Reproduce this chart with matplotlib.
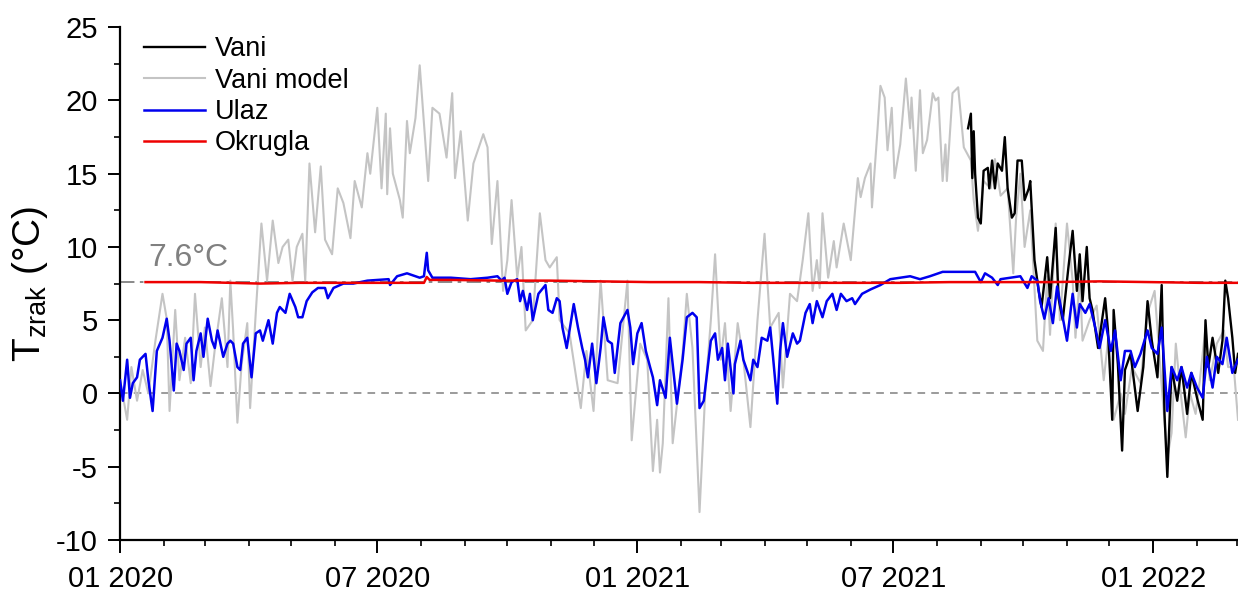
import matplotlib

matplotlib.use("Agg")
import matplotlib.dates as mdates
import matplotlib.pyplot as plt
import numpy as np

plt.rcParams["font.family"] = ["Liberation Sans", "DejaVu Sans"]
plt.rcParams["axes.unicode_minus"] = False

START = np.datetime64("2020-01-01")
END_DAY = 791

# Vani model (grey): days since 2020-01-01, temperature in °C
model_day = [0, 5, 8, 12, 16, 20, 25, 30, 33, 35, 39, 42, 46, 50, 53, 57, 60, 64, 67,
             72, 76, 78, 80, 83, 86, 90, 92, 96, 100, 104, 108, 112, 115, 119, 122,
             125, 129, 131, 134, 138, 142, 145, 150, 154, 158, 163, 166, 171, 175,
             177, 182, 185, 188, 189, 191, 193, 198, 200, 203, 205, 209, 212, 218,
             221, 226, 231, 235, 237, 241, 246, 250, 257, 260, 263, 267, 271, 274,
             277, 281, 284, 287, 292, 297, 301, 304, 309, 311, 318, 326, 330, 335,
             340, 345, 352, 359, 362, 368, 373, 377, 380, 382, 384, 388, 391, 398,
             401, 405, 410, 414, 418, 421, 425, 428, 432, 437, 441, 446, 451, 456,
             460, 466, 469, 474, 479, 483, 487, 490, 493, 495, 497, 501, 505, 507,
             512, 517, 522, 524, 527, 531, 532, 536, 538, 541, 543, 546, 548, 552,
             556, 559, 560, 563, 566, 568, 571, 575, 577, 579, 582, 584, 585, 589,
             593, 597, 602, 604, 607, 611, 616, 619, 623, 628, 632, 634, 637, 640,
             644, 649, 653, 656, 658, 662, 665, 670, 674, 676, 679, 681, 686, 691,
             696, 699, 703, 708, 711, 716, 722, 727, 732, 736, 741, 744, 747, 750,
             754, 757, 761, 764, 768, 771, 776, 781, 784, 788, 791]
model_val = [0.9, -1.8, 1.8, -0.5, 1.6, 0.0, 3.6, 6.8, 5.1, -1.2, 5.7, 0.9, 3.8, 0.7,
             6.8, 1.8, 4.5, 0.5, 3.0, 6.5, 1.8, 7.7, 4.3, -2.0, 2.0, 4.8, -1.0, 5.5,
             11.6, 7.7, 11.8, 8.9, 10.0, 10.5, 7.7, 10.0, 10.9, 7.7, 15.7, 11.0, 15.5,
             10.5, 9.5, 14.0, 13.0, 10.6, 14.5, 12.7, 16.4, 15.0, 19.5, 14.0, 19.1,
             13.6, 18.1, 15.0, 13.2, 12.0, 18.6, 16.4, 18.8, 22.4, 14.5, 19.5, 19.1,
             16.1, 20.5, 14.7, 17.9, 11.8, 15.7, 17.7, 16.8, 10.2, 14.5, 7.0, 9.1,
             13.2, 7.9, 10.0, 4.3, 5.0, 12.3, 9.1, 8.6, 9.3, 5.0, 4.1, -1.0, 2.9,
             -1.2, 7.7, 0.9, 0.7, 7.7, -3.2, 3.4, 2.3, -5.3, -1.8, -5.4, -3.4, 6.5,
             -3.4, 2.7, 6.8, 3.1, -8.1, 0.0, 5.0, 9.5, 2.3, 4.8, -1.2, 4.8, 2.3,
             -2.3, 5.0, 10.9, 4.5, 5.5, 0.4, 6.8, 6.3, 9.1, 12.3, 7.0, 9.1, 7.2,
             12.3, 7.9, 10.4, 8.6, 11.6, 9.1, 14.7, 13.4, 14.7, 15.7, 12.7, 18.1,
             21.0, 20.2, 16.6, 19.5, 14.7, 17.0, 21.5, 18.1, 20.2, 15.2, 20.7, 16.4,
             17.3, 20.5, 20.0, 20.2, 14.5, 17.0, 14.5, 20.5, 20.9, 16.8, 15.9, 13.2,
             11.1, 14.5, 14.0, 16.0, 13.5, 14.0, 8.2, 12.0, 15.0, 10.0, 12.5, 3.6,
             2.9, 8.0, 4.0, 11.6, 5.0, 11.6, 7.7, 3.8, 8.0, 3.6, 5.0, 6.0, 0.9, 3.6,
             -1.8, 0.0, -1.4, 1.8, 0.7, 5.5, 7.0, 1.8, -4.4, -2.7, 3.4, 0.4, -3.0,
             0.0, -1.4, 0.9, 4.5, 0.9, 3.4, 4.3, 1.8, 1.8, -1.8]

# Vani (black), measured
vani_day = [600, 602, 603, 604, 605, 607, 609, 611, 614, 615, 617, 619, 621, 624, 626,
            628, 631, 633, 635, 638, 640, 643, 644, 646, 647, 650, 652, 656, 658, 662,
            664, 667, 671, 674, 677, 679, 681, 684, 686, 688, 692, 697, 699, 702, 703,
            706, 709, 711, 715, 720, 724, 727, 730, 734, 737, 739, 741, 744, 748, 751,
            755, 758, 762, 766, 768, 770, 773, 777, 780, 782, 784, 787, 789, 791]
vani_val = [18.1, 19.1, 14.7, 17.9, 15.0, 12.0, 11.6, 15.2, 15.4, 14.0, 15.9, 14.0,
            15.7, 15.2, 17.5, 14.0, 12.0, 12.3, 15.9, 15.9, 13.2, 14.0, 14.5, 10.9,
            9.1, 7.0, 5.9, 9.3, 6.5, 11.3, 6.5, 5.0, 8.6, 11.1, 7.0, 9.5, 6.3, 10.0,
            6.5, 5.7, 3.1, 6.5, 4.3, -1.8, 5.7, 2.0, -3.9, 1.6, 2.7, -1.2, 1.8, 6.3,
            3.6, 1.1, 7.4, -1.4, -5.7, 1.8, -0.5, 1.8, -1.4, 1.4, -0.3, -1.8, 5.0,
            1.8, 3.8, 1.4, 3.6, 7.7, 6.5, 3.8, 1.4, 2.7]

# Ulaz (blue)
ulaz_day = [0, 2, 5, 7, 9, 12, 14, 18, 20, 23, 26, 30, 33, 35, 38, 40, 42, 45, 47, 50,
            52, 54, 57, 59, 62, 65, 67, 69, 73, 76, 78, 80, 83, 85, 87, 90, 93, 96, 99,
            101, 105, 108, 111, 113, 117, 120, 124, 126, 129, 132, 136, 140, 145, 147,
            151, 158, 165, 175, 190, 191, 196, 203, 212, 215, 217, 218, 221, 234, 248,
            260, 267, 270, 272, 274, 277, 281, 283, 285, 288, 290, 292, 296, 301, 303,
            306, 309, 311, 313, 316, 321, 324, 327, 329, 331, 334, 337, 340, 342, 345,
            348, 350, 354, 359, 361, 363, 366, 369, 372, 375, 377, 380, 382, 386, 389,
            394, 398, 401, 405, 408, 410, 413, 418, 421, 423, 426, 428, 430, 434, 435,
            439, 441, 446, 448, 451, 454, 458, 460, 462, 465, 467, 469, 472, 476, 479,
            481, 485, 488, 490, 493, 497, 500, 504, 507, 510, 514, 518, 520, 525, 531,
            538, 545, 552, 559, 566, 573, 582, 594, 605, 609, 612, 617, 621, 623, 630,
            637, 642, 645, 649, 651, 654, 657, 660, 663, 667, 670, 674, 677, 679, 683,
            686, 690, 693, 697, 701, 704, 708, 711, 715, 718, 722, 727, 730, 734, 737,
            741, 744, 748, 751, 755, 758, 762, 766, 769, 773, 776, 780, 783, 787, 791]
ulaz_val = [0.9, -0.5, 2.3, -0.3, 0.7, 1.1, 2.3, 2.7, 0.9, -1.2, 2.9, 3.8, 5.1, 3.6,
            0.2, 3.4, 2.9, 1.6, 3.4, 3.8, 0.9, 2.9, 4.1, 2.5, 5.1, 3.6, 3.1, 4.3, 2.5,
            3.4, 3.6, 3.4, 1.8, 1.6, 3.4, 3.8, 1.1, 4.1, 4.3, 3.6, 5.0, 3.4, 5.5, 5.9,
            5.5, 6.8, 5.9, 5.2, 5.2, 6.3, 6.9, 7.2, 7.2, 6.5, 7.2, 7.5, 7.5, 7.7, 7.8,
            7.4, 8.0, 8.2, 7.9, 8.0, 9.6, 8.4, 7.9, 7.9, 7.8, 7.9, 8.0, 7.7, 7.9, 6.8,
            7.6, 7.8, 6.3, 7.0, 5.7, 6.8, 5.0, 6.8, 7.4, 5.7, 5.5, 6.5, 6.3, 4.5, 3.1,
            6.1, 4.5, 3.1, 2.3, 1.1, 3.4, 0.7, 3.1, 5.2, 3.6, 3.4, 1.4, 4.8, 5.7, 4.5,
            2.0, 4.1, 4.8, 2.9, 1.8, 1.1, -0.8, 0.9, -0.3, 3.8, -0.7, 2.3, 5.2, 5.5,
            5.2, -1.0, -0.5, 3.6, 4.1, 2.3, 3.1, 0.9, 3.4, 0.0, 2.0, 3.6, 2.3, 0.9,
            2.3, 1.8, 3.8, 3.6, 4.5, 2.5, -0.7, 2.9, 4.8, 2.5, 4.1, 3.4, 3.6, 5.5, 6.1,
            4.8, 6.3, 5.2, 6.3, 6.8, 5.7, 6.8, 6.3, 6.5, 6.1, 6.8, 7.1, 7.4, 7.8, 7.9,
            8.0, 7.8, 8.0, 8.3, 8.3, 8.3, 7.6, 8.2, 7.9, 7.4, 7.8, 7.9, 8.0, 7.2, 8.0,
            7.7, 6.3, 5.1, 6.5, 4.8, 7.3, 5.2, 3.6, 6.8, 4.5, 6.1, 5.5, 6.1, 4.5, 3.1,
            5.0, 2.9, 4.3, 0.9, 2.9, 2.9, 1.8, 2.7, 4.3, 3.1, 2.7, 4.5, -1.2, 1.8, 0.9,
            1.8, 0.4, 1.4, 0.4, -0.3, 2.5, 0.4, 2.5, 2.0, 3.8, 1.4, 2.3]

# Okrugla (red)
okrugla_day = [18, 57, 99, 127, 163, 198, 215, 217, 219, 234, 269, 304, 340, 375, 410,
               446, 481, 517, 552, 587, 623, 658, 693, 729, 764, 791]
okrugla_val = [7.6, 7.6, 7.5, 7.55, 7.55, 7.55, 7.55, 7.95, 7.75, 7.75, 7.7, 7.7, 7.65,
               7.6, 7.6, 7.55, 7.55, 7.55, 7.55, 7.6, 7.6, 7.6, 7.65, 7.6, 7.55, 7.55]

REF_T = 7.6


def to_dates(days):
    return START + np.array(days).astype("timedelta64[D]")


fig = plt.figure(figsize=(12.38, 5.92), dpi=100)
ax = fig.add_axes([0.097, 0.088, 0.903, 0.866])

ax.axhline(0, color="#808080", lw=1.1, ls=(0, (5, 4)), zorder=1)
ax.axhline(REF_T, color="#808080", lw=1.3, ls=(0, (8, 3, 2, 3)), zorder=1)

ax.plot(to_dates(model_day), model_val, color="#c4c4c4", lw=1.5, label="Vani model", zorder=2)
ax.plot(to_dates(vani_day), vani_val, color="black", lw=1.7, label="Vani", zorder=3)
ax.plot(to_dates(ulaz_day), ulaz_val, color="#0000ee", lw=1.8, label="Ulaz", zorder=4)
ax.plot(to_dates(okrugla_day), okrugla_val, color="#ee0000", lw=1.8, label="Okrugla", zorder=5)

ax.text(to_dates([20])[0], REF_T + 0.6, f"{REF_T}°C", color="#808080", fontsize=23,
        ha="left", va="bottom")

ax.set_xlim(START, to_dates([END_DAY])[0])
ax.set_ylim(-10, 25)
ax.xaxis.set_major_locator(mdates.MonthLocator(bymonth=[1, 7]))
ax.xaxis.set_minor_locator(mdates.MonthLocator())
ax.xaxis.set_major_formatter(mdates.DateFormatter("%m %Y"))
ax.yaxis.set_major_locator(plt.MultipleLocator(5))
ax.yaxis.set_minor_locator(plt.MultipleLocator(2.5))

for side in ("top", "right"):
    ax.spines[side].set_visible(False)
for side in ("left", "bottom"):
    ax.spines[side].set_linewidth(1.6)
ax.tick_params(which="major", direction="out", length=9, width=1.4)
ax.tick_params(which="minor", direction="out", length=4.5, width=1.2)
ax.tick_params(axis="y", which="major", pad=7, labelsize=21)
ax.tick_params(axis="x", which="major", pad=9, labelsize=21)

ax.set_ylabel(r"T$_\mathregular{zrak}$ (°C)", fontsize=28, labelpad=4)

handles, labels = ax.get_legend_handles_labels()
order = [labels.index(n) for n in ("Vani", "Vani model", "Ulaz", "Okrugla")]
ax.legend([handles[i] for i in order], [labels[i] for i in order], loc="upper left",
          bbox_to_anchor=(0.0, 1.03), frameon=False, fontsize=19.5, handlelength=2.25,
          handletextpad=0.35, labelspacing=0.2)

fig.savefig("out.png", dpi=100)
